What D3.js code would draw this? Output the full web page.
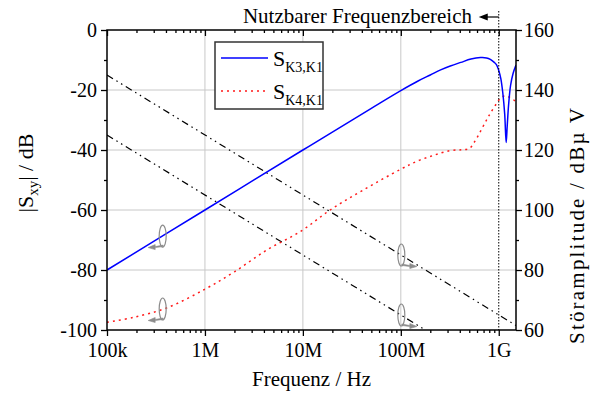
<!DOCTYPE html>
<html>
<head>
<meta charset="utf-8">
<script src="https://cdn.jsdelivr.net/npm/d3@7"></script>
<style>
  body { margin: 0; background: #fff; }
  svg { display: block; font-family: "Liberation Serif", "Times New Roman", serif; }
</style>
</head>
<body>
<div id="chart"></div>
<script>
// ---- data ----
var xTicks = [1e5, 1e6, 1e7, 1e8, 1e9];
var xTickLabels = ["100k", "1M", "10M", "100M", "1G"];
var leftTicks = [0, -20, -40, -60, -80, -100];
var rightTicks = [160, 140, 120, 100, 80, 60];

// S_K3,K1 (left axis, dB)
var k3Freq = [1e5, 1e6, 1e7, 5e7, 1e8, 1.5e8, 2e8, 2.55e8, 3.2e8, 4.1e8, 5.2e8, 6.5e8, 7.5e8, 8.2e8,
              9e8, 9.5e8, 1e9, 1.05e9, 1.1e9, 1.15e9, 1.19e9, 1.22e9, 1.26e9, 1.32e9, 1.4e9, 1.5e9];
var k3Db   = [-80, -60, -40, -26.1, -20.2, -17.0, -15.0, -13.3, -12.0, -10.8, -9.7, -9.2, -9.3, -9.8,
              -10.8, -11.6, -13.5, -16.2, -21, -28, -37.5, -32, -25, -18.5, -14.5, -11.7];

// S_K4,K1 (left axis, dB)
var k4Freq = [1e5, 1.86e5, 4.1e5, 1e6, 2e6, 4.3e6, 9.4e6, 1.9e7, 4e7, 1e8, 1.5e8, 2.2e8, 3.2e8, 4.2e8,
              5e8, 5.6e8, 6.5e8, 7.5e8, 8.2e8, 9.5e8, 1.05e9, 1.15e9, 1.3e9, 1.5e9];
var k4Db   = [-97.4, -95.8, -92.6, -86.4, -80.6, -73.3, -67.2, -60, -53.6, -46.4, -43.6, -41.7, -40.2, -39.9,
              -39.5, -37.5, -33.8, -30, -27.8, -24.5, -22.6, -22, -22.5, -23.9];

// interference amplitude lines (right axis, dBuV)
var noiseAFreq = [1e5, 1.5e9];
var noiseAVal  = [145, 61.5];
var noiseBFreq = [1e5, 1.78e8];
var noiseBVal  = [125, 60];

// axis markers: ellipse on a curve with an arrow to its axis
var markFreq = [3.66e5, 3.66e5, 1e8, 1e8];
var markVal  = [-68.7, -93.0, 85, 65];
var markAxis = ["left", "left", "right", "right"];

var legendNames = ["K3,K1", "K4,K1"];

var Chart = {

	W: 591,
	H: 394,
	L: 107, R: 516, T: 30, B: 330,

	init: function() {
		var c = Chart;
		c.svg = d3.select('#chart').append('svg')
			.attr('width', c.W).attr('height', c.H);

		c.x = d3.scaleLog().domain([1e5, 1.5e9]).range([c.L, c.R]);
		c.yL = d3.scaleLinear().domain([-100, 0]).range([c.B, c.T]);
		c.yR = d3.scaleLinear().domain([60, 160]).range([c.B, c.T]);

		c.svg.append('defs').append('clipPath').attr('id', 'plot-clip')
			.append('rect')
			.attr('x', c.L).attr('y', c.T)
			.attr('width', c.R - c.L).attr('height', c.B - c.T);

		c.drawGrid();
		c.drawCurves();
		c.drawMarkers();
		c.drawFrameAndAxes();
		c.drawLegend();
		c.drawLabels();
	},

	// light grey grid at the major ticks
	drawGrid: function() {
		var c = Chart, g = c.svg.append('g').attr('class', 'grid');
		g.selectAll('line.vx')
			.data(xTicks.slice(1, 4))
			.enter().append('line')
			.attr('x1', function(d) { return c.x(d); })
			.attr('x2', function(d) { return c.x(d); })
			.attr('y1', c.T).attr('y2', c.B)
			.style('stroke', '#c8c8c8').style('stroke-width', 1);
		g.selectAll('line.hy')
			.data(leftTicks.slice(1, 5))
			.enter().append('line')
			.attr('y1', function(d) { return c.yL(d); })
			.attr('y2', function(d) { return c.yL(d); })
			.attr('x1', c.L).attr('x2', c.R)
			.style('stroke', '#c8c8c8').style('stroke-width', 1);
	},

	drawCurves: function() {
		var c = Chart;
		var g = c.svg.append('g').attr('clip-path', 'url(#plot-clip)');

		var leftLine = d3.line()
			.x(function(d) { return c.x(d[0]); })
			.y(function(d) { return c.yL(d[1]); })
			.curve(d3.curveCatmullRom.alpha(0.5));
		var rightLine = d3.line()
			.x(function(d) { return c.x(d[0]); })
			.y(function(d) { return c.yR(d[1]); });

		// dash-dot-dot interference lines
		[[noiseAFreq, noiseAVal], [noiseBFreq, noiseBVal]].forEach(function(s) {
			g.append('path')
				.datum(d3.zip(s[0], s[1]))
				.attr('d', rightLine)
				.style('fill', 'none').style('stroke', '#000')
				.style('stroke-width', 1.2)
				.style('stroke-dasharray', '7,4,1.5,4,1.5,4');
		});

		g.append('path')
			.datum(d3.zip(k4Freq, k4Db))
			.attr('d', leftLine)
			.style('fill', 'none').style('stroke', '#ff1a1a')
			.style('stroke-width', 1.5)
			.style('stroke-dasharray', '2,4');

		g.append('path')
			.datum(d3.zip(k3Freq, k3Db))
			.attr('d', leftLine)
			.style('fill', 'none').style('stroke', '#0000ff')
			.style('stroke-width', 1.5);
	},

	// small grey ellipses with an arrow pointing to the matching axis
	drawMarkers: function() {
		var c = Chart;
		var marks = d3.range(markFreq.length).map(function(i) {
			var y = markAxis[i] === 'left' ? c.yL(markVal[i]) : c.yR(markVal[i]);
			return { x: c.x(markFreq[i]), y: y, dir: markAxis[i] === 'left' ? -1 : 1 };
		});
		var g = c.svg.append('g').attr('class', 'markers');
		g.selectAll('ellipse').data(marks).enter().append('ellipse')
			.attr('cx', function(d) { return d.x + 0.5; })
			.attr('cy', function(d) { return d.y; })
			.attr('rx', 3.5).attr('ry', 11)
			.style('fill', 'none').style('stroke', '#8c8c8c').style('stroke-width', 1.2);
		g.selectAll('path.arrow').data(marks).enter().append('path')
			.attr('class', 'arrow')
			.attr('d', function(d) {
				var x0 = d.x + 1, y0 = d.y + 9, s = d.dir;
				return 'M' + x0 + ',' + y0 +
					'L' + (x0 + s * 8) + ',' + (y0 + 1.5) +
					'L' + (x0 + s * 8) + ',' + (y0 - 0.5) +
					'L' + (x0 + s * 15) + ',' + (y0 + 2.5) +
					'L' + (x0 + s * 8) + ',' + (y0 + 4.5) +
					'L' + (x0 + s * 8) + ',' + (y0 + 2.5) +
					'L' + x0 + ',' + (y0 + 1.5) + 'Z';
			})
			.style('fill', '#8c8c8c').style('stroke', '#8c8c8c').style('stroke-width', 0.6);
	},

	drawFrameAndAxes: function() {
		var c = Chart;
		var minorX = c.x.ticks().filter(function(d) { return xTicks.indexOf(d) < 0; });
		var minorL = d3.range(-90, 0, 20);
		var minorR = d3.range(70, 160, 20);
		// plain hyphen for negatives, like the original
		var plain = function(d) { return String(d); };

		var txt = function(sel) {
			sel.selectAll('text').style('font-size', '20px').style('fill', '#000')
				.style('font-family', '"Liberation Serif", serif');
			sel.selectAll('line').style('stroke', '#000').style('stroke-width', 1.3);
			sel.select('.domain').remove();
		};

		// bottom: outward ticks with labels
		c.svg.append('g').attr('transform', 'translate(0,' + c.B + ')')
			.call(d3.axisBottom(c.x).tickValues(xTicks)
				.tickFormat(function(d, i) { return xTickLabels[i]; })
				.tickSize(6).tickPadding(7))
			.call(txt);
		c.svg.append('g').attr('transform', 'translate(0,' + c.B + ')')
			.call(d3.axisBottom(c.x).tickValues(minorX).tickFormat('').tickSize(3))
			.call(txt);

		// top: inward ticks, no labels
		c.svg.append('g').attr('transform', 'translate(0,' + c.T + ')')
			.call(d3.axisBottom(c.x).tickValues(xTicks).tickFormat('').tickSize(6))
			.call(txt);
		c.svg.append('g').attr('transform', 'translate(0,' + c.T + ')')
			.call(d3.axisBottom(c.x).tickValues(minorX).tickFormat('').tickSize(3))
			.call(txt);

		// left
		c.svg.append('g').attr('transform', 'translate(' + c.L + ',0)')
			.call(d3.axisLeft(c.yL).tickValues(leftTicks).tickFormat(plain).tickSize(6).tickPadding(4))
			.call(txt);
		c.svg.append('g').attr('transform', 'translate(' + c.L + ',0)')
			.call(d3.axisLeft(c.yL).tickValues(minorL).tickFormat('').tickSize(3))
			.call(txt);

		// right
		c.svg.append('g').attr('transform', 'translate(' + c.R + ',0)')
			.call(d3.axisRight(c.yR).tickValues(rightTicks).tickFormat(plain).tickSize(6).tickPadding(2))
			.call(txt);
		c.svg.append('g').attr('transform', 'translate(' + c.R + ',0)')
			.call(d3.axisRight(c.yR).tickValues(minorR).tickFormat('').tickSize(3))
			.call(txt);

		// usable frequency limit at 1 GHz
		c.svg.append('line')
			.attr('x1', c.x(1e9)).attr('x2', c.x(1e9))
			.attr('y1', 11).attr('y2', c.B)
			.style('stroke', '#000').style('stroke-width', 1)
			.style('stroke-dasharray', '1.5,1.5');

		c.svg.append('rect')
			.attr('x', c.L).attr('y', c.T)
			.attr('width', c.R - c.L).attr('height', c.B - c.T)
			.style('fill', 'none').style('stroke', '#000').style('stroke-width', 1.5);
	},

	drawLegend: function() {
		var g = Chart.svg.append('g').attr('class', 'legend');
		g.append('rect')
			.attr('x', 215).attr('y', 42).attr('width', 108).attr('height', 67)
			.style('fill', '#fff').style('stroke', '#333').style('stroke-width', 1.5);

		var styles = [
			{ color: '#0000ff', dash: null },
			{ color: '#ff1a1a', dash: '2,4' }
		];
		legendNames.forEach(function(name, i) {
			var y = 58 + i * 33;
			g.append('line')
				.attr('x1', 221).attr('x2', 268).attr('y1', y).attr('y2', y)
				.style('stroke', styles[i].color).style('stroke-width', 1.5)
				.style('stroke-dasharray', styles[i].dash);
			var t = g.append('text')
				.attr('x', 273).attr('y', y + 8)
				.style('font-size', '22px');
			t.append('tspan').text('S');
			t.append('tspan').attr('dy', 6).style('font-size', '14px').text(name);
		});
	},

	drawLabels: function() {
		var c = Chart, svg = c.svg;

		svg.append('text')
			.attr('x', (c.L + c.R) / 2).attr('y', 386)
			.attr('text-anchor', 'middle')
			.style('font-size', '21px')
			.text('Frequenz / Hz');

		var yl = svg.append('text')
			.attr('transform', 'translate(33,' + 173 + ') rotate(-90)')
			.attr('text-anchor', 'middle')
			.style('font-size', '22px');
		yl.append('tspan').text('|S');
		yl.append('tspan').attr('dy', 5).style('font-size', '15px').text('xy');
		yl.append('tspan').attr('dy', -5).text('| / dB');

		svg.append('text')
			.attr('transform', 'translate(584,' + 226 + ') rotate(-90)')
			.attr('text-anchor', 'middle')
			.attr('textLength', 236)
			.attr('lengthAdjust', 'spacing')
			.style('font-size', '21px')
			.text('Störamplitude / dBµ V');

		svg.append('text')
			.attr('x', 472).attr('y', 23)
			.attr('text-anchor', 'end')
			.style('font-size', '21px')
			.text('Nutzbarer Frequenzbereich');

		// arrow pointing left from the 1 GHz limit
		var xa = c.x(1e9);
		svg.append('line')
			.attr('x1', xa).attr('x2', xa - 12).attr('y1', 17).attr('y2', 17)
			.style('stroke', '#000').style('stroke-width', 1.2);
		svg.append('path')
			.attr('d', 'M' + (xa - 20) + ',17L' + (xa - 11) + ',13.5L' + (xa - 11) + ',20.5Z')
			.style('fill', '#000');
	}
};

Chart.init();
</script>
</body>
</html>
